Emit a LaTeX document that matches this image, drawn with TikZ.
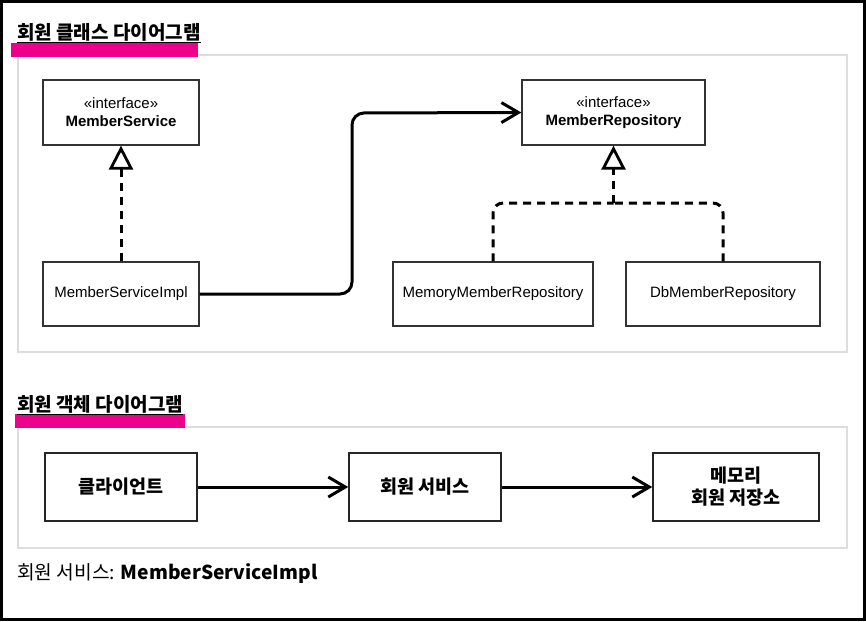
\documentclass[tikz,border=0pt]{standalone}
\usepackage{fontspec}
\setmainfont{Liberation Sans}
\newfontfamily\kr{Noto Sans CJK KR}
\usetikzlibrary{positioning,calc,arrows.meta}

\definecolor{hilite}{HTML}{EC008C}
\definecolor{panelgray}{HTML}{DDDDDD}

\begin{document}
\begin{tikzpicture}[x=1pt,y=-1pt]
        \tikzstyle{cls} = [draw=black!80,line width=1.3pt,fill=white,inner sep=2pt,align=center,
          font=\fontsize{15}{18}\selectfont]
        \tikzstyle{obj} = [draw=black!85,line width=1.5pt,fill=white,align=center,minimum width=152pt,
          minimum height=68pt,font=\kr\bfseries\fontsize{18.5}{22}\selectfont]
        \tikzstyle{panel} = [draw=panelgray,line width=1.8pt]
        \tikzstyle{dashline} = [line width=3pt,dash pattern=on 8pt off 6pt]
        \tikzstyle{impl} = [dashline,-{Triangle[open,length=24pt,width=24pt,line width=2.8pt]}]
        \tikzstyle{assoc} = [line width=3pt,-{Straight Barb[length=17pt,width=20pt,line width=3pt]}]
        \useasboundingbox (0,0) rectangle (866,621);
        \fill[white] (0,0) rectangle (866,621);
        \draw[line width=3pt] (1.5,1.5) rectangle (864,619.5);

        % class diagram
        \draw[panel] (18,55) rectangle (847,352);
        \fill[hilite] (11,43) rectangle (198,57);
        \node[anchor=base west,inner sep=0pt,font=\kr\bfseries\fontsize{19}{22}\selectfont] (title1) at (17,39) {회원 클래스 다이어그램};
        \draw[line width=1pt] (title1.south west) ++(0,1) -- ($(title1.south east)+(0,1)$);

        \node[cls,minimum width=156pt,minimum height=65pt] (svc) at (121,112.5) {«interface»\\\textbf{MemberService}};
        \node[cls,minimum width=183pt,minimum height=65pt] (repo) at (613.5,112.5) {«interface»\\\textbf{MemberRepository}};
        \node[cls,minimum width=156pt,minimum height=64pt] (svcimpl) at (121,294) {MemberServiceImpl};
        \node[cls,minimum width=200pt,minimum height=64pt] (memrepo) at (493,294) {MemoryMemberRepository};
        \node[cls,minimum width=194pt,minimum height=64pt] (dbrepo) at (723,294) {DbMemberRepository};
        \coordinate (join) at (613.5,203);

        \draw[impl] (svcimpl) -- (svc);
        \draw[assoc,rounded corners=12pt] (svcimpl.east) -- (352,294) -- (352,113) -- (repo.west);
        \draw[dashline,rounded corners=10pt] (memrepo.north) |- (join);
        \draw[dashline,rounded corners=10pt] (dbrepo.north) |- (join);
        \draw[impl] (join) -- (repo.south);

        % object diagram
        \draw[panel] (18,427) rectangle (847,548);
        \fill[hilite] (15,414) rectangle (185,428);
        \node[anchor=base west,inner sep=0pt,font=\kr\bfseries\fontsize{19}{22}\selectfont] (title2) at (17,411) {회원 객체 다이어그램};
        \draw[line width=1pt] (title2.south west) ++(0,1) -- ($(title2.south east)+(0,1)$);

        \node[obj] (client) at (121,487) {클라이언트};
        \node[obj] (service) at (425,487) {회원 서비스};
        \node[obj,minimum width=166pt] (store) at (736,487) {메모리\\회원 저장소};
        \draw[assoc] (client) -- (service);
        \draw[assoc] (service) -- (store);

        \node[anchor=base west,inner sep=0pt,font=\kr\fontsize{19.2}{22}\selectfont] (note) at (17,579)
          {회원 서비스: \textbf{MemberServiceImpl}};
      \end{tikzpicture}
\end{document}
